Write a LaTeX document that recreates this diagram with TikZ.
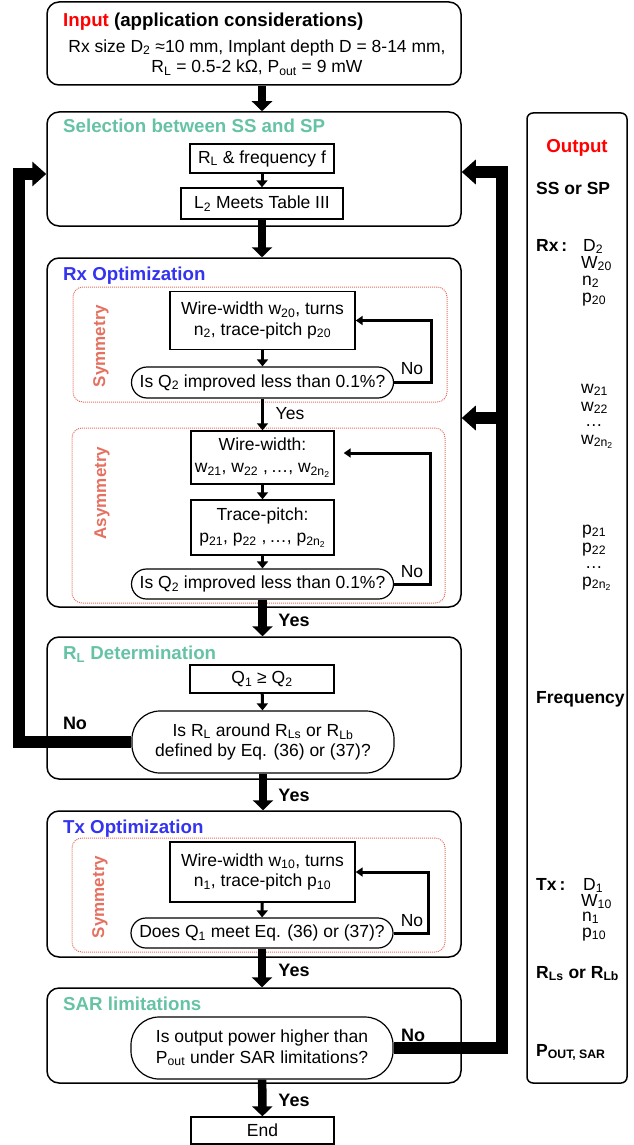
\documentclass[tikz,border=0pt]{standalone}
\usepackage{fontspec}
\setmainfont{Liberation Sans}
\usetikzlibrary{arrows.meta}
\definecolor{tealT}{RGB}{102,194,165}
\definecolor{blueT}{RGB}{51,51,240}
\definecolor{salmonT}{RGB}{228,112,96}
\newcommand\bodyf{\fontsize{17.5}{20.5}\selectfont}
\newcommand\titlef{\fontsize{18.7}{22}\selectfont\bfseries}
\newcommand\lblf{\fontsize{18}{20}\selectfont\bfseries}
\newcommand\symf{\fontsize{17}{20}\selectfont\bfseries}
\begin{document}
\begin{tikzpicture}[x=1pt,y=-1pt,
  container/.style={draw, line width=1.5pt, rounded corners=12pt, inner sep=0pt, minimum width=414pt},
  procbox/.style={draw, line width=1.4pt, align=center, inner sep=0pt, font=\bodyf},
  decision/.style={draw, line width=1.2pt, align=center, inner sep=0pt, font=\bodyf, minimum width=262pt},
  region/.style={draw=salmonT, densely dotted, line width=1pt, rounded corners=10pt, inner sep=0pt},
  ttl/.style={anchor=base west, font=\titlef, inner sep=0pt},
  symtext/.style={rotate=90, font=\symf, text=salmonT, inner sep=0pt},
  bodytext/.style={font=\bodyf, inner sep=0pt},
  boldlbl/.style={font=\lblf, inner sep=0pt},
  plainlbl/.style={font=\bodyf, inner sep=0pt},
  outb/.style={anchor=base west, font=\bodyf\bfseries, inner sep=0pt},
  outp/.style={anchor=base west, font=\bodyf, inner sep=0pt},
  bigarrow/.style={line width=8.5pt, -{Triangle[width=20pt,length=10pt]}},
  fb/.style={line width=12pt, -{Triangle[width=24pt,length=14pt]}},
  thinarrow/.style={line width=3pt, -{Triangle[width=11pt,length=7pt]}},
  loopar/.style={line width=3pt, -{Triangle[width=9pt,length=7pt]}},
]
\useasboundingbox (0,0) rectangle (633,1145);

% ---------- Input ----------
\node[container, minimum height=83pt] (input) at (254,43.5) {};
\node[ttl] (inputT) at (63,27) {\textcolor{red}{Input} (application considerations)};
\node[bodytext, align=center] (inputB) at (257,57.5) {Rx size D\textsubscript{2} ≈10 mm, Implant depth D = 8-14 mm,\\R\textsubscript{L} = 0.5-2 kΩ, P\textsubscript{out} = 9 mW};

% ---------- Selection ----------
\node[container, minimum height=114pt] (sel) at (254,169) {};
\node[ttl, text=tealT] (selT) at (63,132) {Selection between SS and SP};
\node[procbox, minimum width=144pt, minimum height=29pt] (rlf) at (262,158.5) {R\textsubscript{L} \& frequency f};
\node[procbox, minimum width=162pt, minimum height=31pt] (l2) at (262,203.5) {L\textsubscript{2} Meets Table III};

% ---------- Rx optimization ----------
\node[container, minimum height=349pt] (rx) at (254,432.5) {};
\node[ttl, text=blueT] (rxT) at (63,280) {Rx Optimization};
\node[region, minimum width=374pt, minimum height=115pt] (symrx) at (260,344.5) {};
\node[symtext] (symrxT) at (101,346) {Symmetry};
\node[procbox, minimum width=185pt, minimum height=58pt] (wrx) at (262.5,320.5) {Wire-width w\textsubscript{20}, turns\\n\textsubscript{2}, trace-pitch p\textsubscript{20}};
\node[decision, minimum height=31pt, rounded corners=15.5pt] (dec1) at (262.5,382.5) {Is Q\textsubscript{2} improved less than 0.1\%?};
\node[region, minimum width=373pt, minimum height=175pt] (asym) at (258.5,515.5) {};
\node[symtext] (asymT) at (102,493) {Asymmetry};
\node[procbox, minimum width=143pt, minimum height=53pt] (ww) at (262.5,457.5) {Wire-width:\\[2pt]w\textsubscript{21}, w\textsubscript{22} ,\,…, w\textsubscript{2n\textsubscript{2}}};
\node[procbox, minimum width=143pt, minimum height=55pt] (tp) at (262.5,527.5) {Trace-pitch:\\[2pt]p\textsubscript{21}, p\textsubscript{22} ,\,…, p\textsubscript{2n\textsubscript{2}}};
\node[decision, minimum height=30pt, rounded corners=15pt] (dec2) at (262.5,584) {Is Q\textsubscript{2} improved less than 0.1\%?};

% ---------- RL determination ----------
\node[container, minimum height=142pt] (rl) at (254,708) {};
\node[ttl, text=tealT] (rlT) at (63,659) {R\textsubscript{L} Determination};
\node[procbox, minimum width=144pt, minimum height=28pt] (q) at (262,679) {Q\textsubscript{1} ≥ Q\textsubscript{2}};
\node[decision, minimum height=62pt, rounded corners=28pt] (dec3) at (263,742) {Is R\textsubscript{L} around R\textsubscript{Ls} or R\textsubscript{Lb}\\defined by Eq. (36) or (37)?};

% ---------- Tx optimization ----------
\node[container, minimum height=146pt] (tx) at (254,884) {};
\node[ttl, text=blueT] (txT) at (63,833) {Tx Optimization};
\node[region, minimum width=373pt, minimum height=114pt] (symtx) at (258.5,895) {};
\node[symtext] (symtxT) at (100,897) {Symmetry};
\node[procbox, minimum width=185pt, minimum height=60pt] (wtx) at (262.5,872) {Wire-width w\textsubscript{10}, turns\\n\textsubscript{1}, trace-pitch p\textsubscript{10}};
\node[decision, minimum height=30pt, rounded corners=15pt] (dec4) at (262,933) {Does Q\textsubscript{1} meet Eq. (36) or (37)?};

% ---------- SAR ----------
\node[container, minimum height=95pt] (sar) at (254,1035.5) {};
\node[ttl, text=tealT] (sarT) at (63,1010) {SAR limitations};
\node[decision, minimum height=62pt, rounded corners=28pt] (dec5) at (262,1048) {Is output power higher than\\P\textsubscript{out} under SAR limitations?};
\node[procbox, minimum width=143pt, minimum height=27pt] (endb) at (262.5,1130.5) {End};

% ---------- Output column ----------
\node[draw, line width=1.5pt, rounded corners=6pt, minimum width=100pt, minimum height=970pt, inner sep=0pt] (out) at (577,598) {};
\node[anchor=base, font=\titlef, text=red, inner sep=0pt] (oT) at (577,152) {Output};
\node[outb] (o1) at (536,194) {SS or SP};
\node[outb] (o2) at (536,251) {Rx\,:};
\node[outp] (o3) at (583,251) {D\textsubscript{2}};
\node[outp] (o4) at (581,268) {W\textsubscript{20}};
\node[outp] (o5) at (582,285) {n\textsubscript{2}};
\node[outp] (o6) at (582,302) {p\textsubscript{20}};
\node[outp] (o7) at (581,393) {w\textsubscript{21}};
\node[outp] (o8) at (581,411) {w\textsubscript{22}};
\node[outp] (o9) at (585,426) {…};
\node[outp] (o10) at (581,444) {w\textsubscript{2n\textsubscript{2}}};
\node[outp] (o11) at (582,534) {p\textsubscript{21}};
\node[outp] (o12) at (582,552) {p\textsubscript{22}};
\node[outp] (o13) at (585,568) {…};
\node[outp] (o14) at (582,586) {p\textsubscript{2n\textsubscript{2}}};
\node[outb] (o15) at (536,703) {Frequency};
\node[outb] (o16) at (536,890) {Tx\,:};
\node[outp] (o17) at (583,890) {D\textsubscript{1}};
\node[outp] (o18) at (581,906) {W\textsubscript{10}};
\node[outp] (o19) at (582,921) {n\textsubscript{1}};
\node[outp] (o20) at (582,937) {p\textsubscript{10}};
\node[outb] (o21) at (536,978) {R\textsubscript{Ls} or R\textsubscript{Lb}};
\node[outb] (o22) at (536,1056) {P\textsubscript{OUT, SAR}};

% ---------- main flow arrows ----------
\draw[bigarrow] (input.south -| l2) -- (sel.north -| l2);
\draw[thinarrow] (rlf) -- (l2);
\draw[bigarrow] (l2) -- (rx.north -| l2);
\draw[thinarrow] (wrx) -- (dec1);
\draw[thinarrow] (dec1) -- (ww);
\node[plainlbl] (yes1) at (290,414) {Yes};
\draw[thinarrow] (ww) -- (tp);
\draw[thinarrow] (tp) -- (dec2);
\draw[bigarrow] (dec2) -- (rl.north -| dec2);
\node[boldlbl] (yes2) at (294,620) {Yes};
\draw[thinarrow] (q) -- (dec3);
\draw[bigarrow] (dec3) -- (tx.north -| dec3);
\node[boldlbl] (yes3) at (294,795) {Yes};
\draw[thinarrow] (wtx) -- (dec4);
\draw[bigarrow] (dec4) -- (sar.north -| dec4);
\node[boldlbl] (yes4) at (294,970) {Yes};
\draw[bigarrow] (dec5) -- (endb);
\node[boldlbl] (yes5) at (294,1100) {Yes};

% ---------- inner loops ----------
\coordinate (lp1) at (431,320.5);
\draw[loopar] (dec1.east) -| (lp1) -- (wrx.east);
\node[plainlbl] (no1) at (412,369) {No};
\coordinate (lp2) at (430,453);
\draw[loopar, shorten >=9pt] (dec2.east) -| (lp2) -- (ww.east |- lp2);
\node[plainlbl] (no2) at (412,572) {No};
\coordinate (lp3) at (428,872);
\draw[loopar] (dec4.east) -| (lp3) -- (wtx.east);
\node[plainlbl] (no3) at (412,921) {No};

% ---------- feedback ----------
\coordinate (lbar) at (19,174);
\draw[fb] (dec3.west) -| (lbar) -- (sel.west |- lbar);
\node[boldlbl] (no4) at (75,723) {No};
\coordinate (rbar) at (502,172);
\draw[fb] (dec5.east) -| (rbar) -- (sel.east |- rbar);
\coordinate (rmid) at (502,418);
\draw[fb] (rmid) -- (rx.east |- rmid);
\node[boldlbl] (no5) at (413,1035) {No};
\end{tikzpicture}
\end{document}
